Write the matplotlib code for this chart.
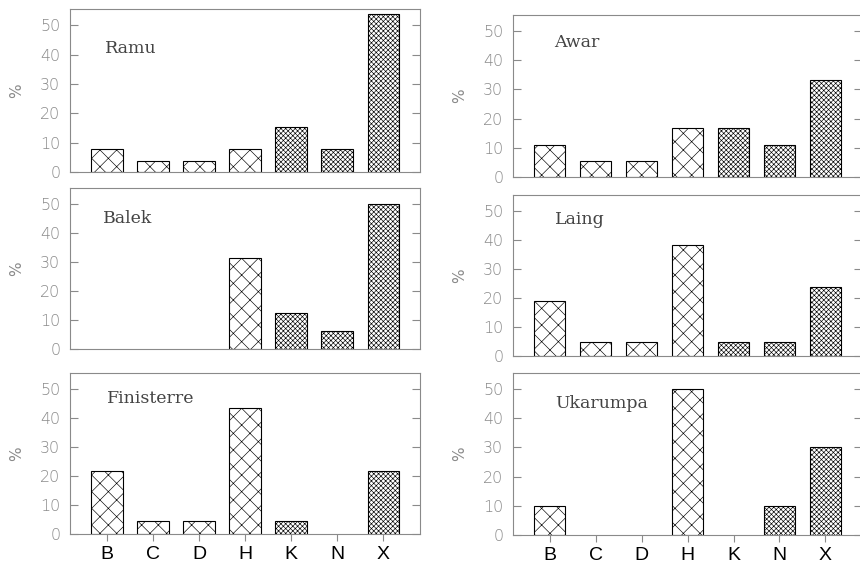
import numpy as np
import matplotlib
matplotlib.use("Agg")
import matplotlib.pyplot as plt

categories = ["B", "C", "D", "H", "K", "N", "X"]

ramu = [7.7, 3.8, 3.8, 7.7, 15.4, 7.7, 53.8]
balek = [0, 0, 0, 31.25, 12.5, 6.25, 50.0]
finisterre = [21.7, 4.35, 4.35, 43.5, 4.35, 0, 21.7]
awar = [11.1, 5.6, 5.6, 16.7, 16.7, 11.1, 33.3]
laing = [19.0, 4.8, 4.8, 38.1, 4.8, 4.8, 23.8]
ukarumpa = [10.0, 0, 0, 50.0, 0, 10.0, 30.0]

coarse = ["B", "C", "D", "H"]
yticks = [0, 10, 20, 30, 40, 50]

plt.rcParams['hatch.linewidth'] = 0.45
grey = "#8a8a8a"

fig = plt.figure(figsize=(8.6, 5.68), dpi=100)

# (name, values, rect, label pos in axes coords)
panels = [
    ("Ramu", ramu, [0.0814, 0.697, 0.407, 0.287], (0.10, 0.76)),
    ("Balek", balek, [0.0814, 0.3856, 0.407, 0.2835], (0.095, 0.81)),
    ("Finisterre", finisterre, [0.0814, 0.0599, 0.407, 0.2835], (0.105, 0.84)),
    ("Awar", awar, [0.5965, 0.6884, 0.406, 0.285], (0.117, 0.83)),
    ("Laing", laing, [0.5965, 0.3732, 0.406, 0.2835], (0.12, 0.845)),
    ("Ukarumpa", ukarumpa, [0.5965, 0.0581, 0.406, 0.285], (0.12, 0.815)),
]

x = np.arange(len(categories))
for i, (name, vals, rect, lpos) in enumerate(panels):
    ax = fig.add_axes(rect)
    for xi, cat, v in zip(x, categories, vals):
        if v <= 0:
            continue
        hatch = "xx" if cat in coarse else "xxxxxxx"
        ax.bar(xi, v, width=0.68, facecolor="white", edgecolor="black",
               linewidth=0.8, hatch=hatch)
    ax.set_xlim(-0.8, 6.8)
    ax.set_ylim(0, 55.5)
    ax.set_yticks(yticks)
    ax.tick_params(axis='y', direction='in', length=6, width=0.8, color=grey,
                   right=True, labelright=False, labelsize=11.5, labelcolor=grey, pad=7)
    for s in ax.spines.values():
        s.set_color(grey)
        s.set_linewidth(0.8)
    for lbl in ax.get_yticklabels():
        lbl.set_family("DejaVu Sans")
        lbl.set_fontweight("light")
    ax.set_ylabel("%", color=grey, fontsize=11)
    ax.yaxis.set_label_coords(-0.13, 0.5)
    ax.text(lpos[0], lpos[1], name, transform=ax.transAxes, ha="left", va="center",
            fontsize=12.5, family="DejaVu Serif", color="#444444")
    ax.set_xticks(x)
    if i % 3 == 2:
        ax.set_xticklabels(categories, fontsize=14, family="Liberation Sans")
        ax.tick_params(axis='x', direction='out', length=5, width=0.8, color=grey, pad=4)
    else:
        ax.tick_params(axis='x', bottom=False, labelbottom=False)

fig.savefig("out.png", dpi=100)
